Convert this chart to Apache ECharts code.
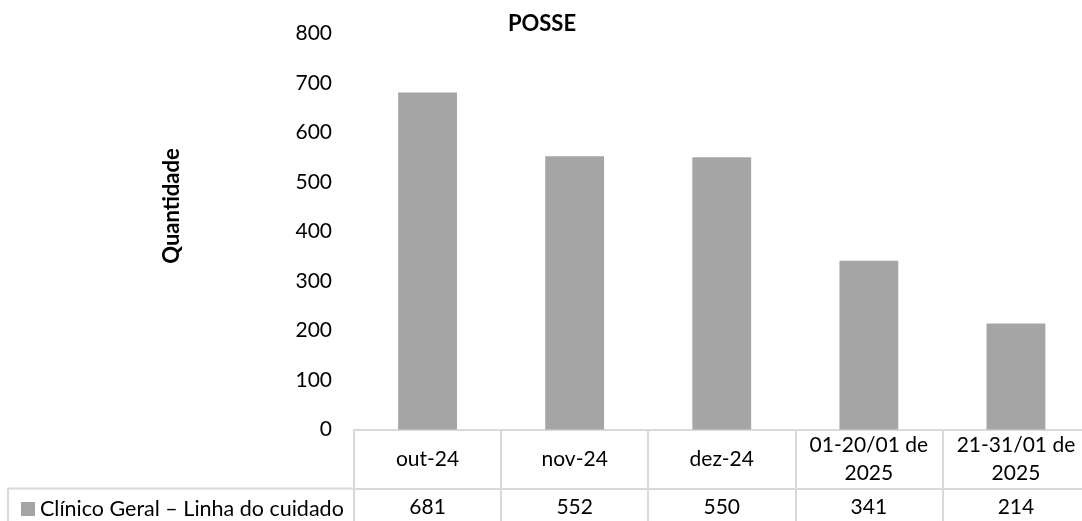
<!DOCTYPE html>
<html>
<head>
<meta charset="utf-8">
<script src="https://cdn.jsdelivr.net/npm/echarts@6/dist/echarts.min.js"></script>
<style>
html,body{margin:0;padding:0;background:#fff;}
#chart{width:1082px;height:521px;}
</style>
</head>
<body>
<div id="chart"></div>
<script>
const categories = ['out-24', 'nov-24', 'dez-24', '01-20/01 de\n2025', '21-31/01 de\n2025'];
const values = [681, 552, 550, 341, 214];
const seriesName = 'Clínico Geral – Linha do cuidado';
const chartTitle = 'POSSE';
const yAxisTitle = 'Quantidade';

const FONT = 'Lato, "Open Sans", sans-serif';
const FS = 21;
const LINE = '#d9d9d9';
const TXT = '#000000';

const chart = echarts.init(document.getElementById('chart'));
const gridLeft = 354, gridTop = 33.5, gridRight = -7.5, gridH = 396;
const headerH = 59;
chart.setOption({
  animation: false,
  backgroundColor: '#ffffff',
  textStyle: { fontFamily: FONT },
  title: {
    text: chartTitle, left: 537, top: 8, textAlign: 'center',
    textStyle: { fontFamily: FONT, fontSize: 22, fontWeight: 'bold', color: TXT }
  },
  legend: {
    left: 16, top: 493, icon: 'rect', itemWidth: 14, itemHeight: 14, itemGap: 0,
    textStyle: { fontFamily: FONT, fontSize: 21.5, color: TXT },
    selectedMode: false
  },
  grid: { left: gridLeft, top: gridTop, right: gridRight, height: gridH, outerBoundsMode: 'none', containLabel: false },
  xAxis: [{
    type: 'category', data: categories, position: 'bottom',
    axisLine: { show: true, lineStyle: { color: LINE, width: 2 } },
    axisTick: { show: true, interval: 0, length: headerH, lineStyle: { color: LINE, width: 2 } },
    axisLabel: { interval: 0, color: TXT, fontFamily: FONT, fontSize: FS, lineHeight: 28, margin: headerH / 2,
      verticalAlign: 'middle', hideOverlap: false }
  }, {
    type: 'category', data: categories, position: 'bottom', offset: headerH,
    axisLine: { show: true, lineStyle: { color: LINE, width: 2 } },
    axisTick: { show: true, interval: 0, length: 40, lineStyle: { color: LINE, width: 2 } },
    axisLabel: { interval: 0, color: TXT, fontFamily: FONT, fontSize: FS, margin: 18.5, verticalAlign: 'middle',
      formatter: (v, i) => String(values[i]) }
  }],
  yAxis: {
    type: 'value', min: 0, max: 800, interval: 100,
    axisLine: { show: false }, axisTick: { show: false }, splitLine: { show: false },
    axisLabel: { color: TXT, fontFamily: FONT, fontSize: FS, margin: 22 }
  },
  series: [{
    name: seriesName, type: 'bar', data: values, barWidth: '40%',
    itemStyle: { color: '#a5a5a5' }, xAxisIndex: 0
  }],
  graphic: [
    { type: 'text', x: 172, y: 206, rotation: Math.PI / 2,
      style: { text: yAxisTitle, fontFamily: FONT, fontSize: 22, fontWeight: 'bold', fill: TXT,
        align: 'center', verticalAlign: 'middle' } },
    { type: 'line', shape: { x1: 8, y1: gridTop + gridH + headerH, x2: gridLeft, y2: gridTop + gridH + headerH },
      style: { stroke: LINE, lineWidth: 2 } },
    { type: 'line', shape: { x1: 8, y1: gridTop + gridH + headerH, x2: 8, y2: 530 },
      style: { stroke: LINE, lineWidth: 2 } }
  ]
});
</script>
</body>
</html>
